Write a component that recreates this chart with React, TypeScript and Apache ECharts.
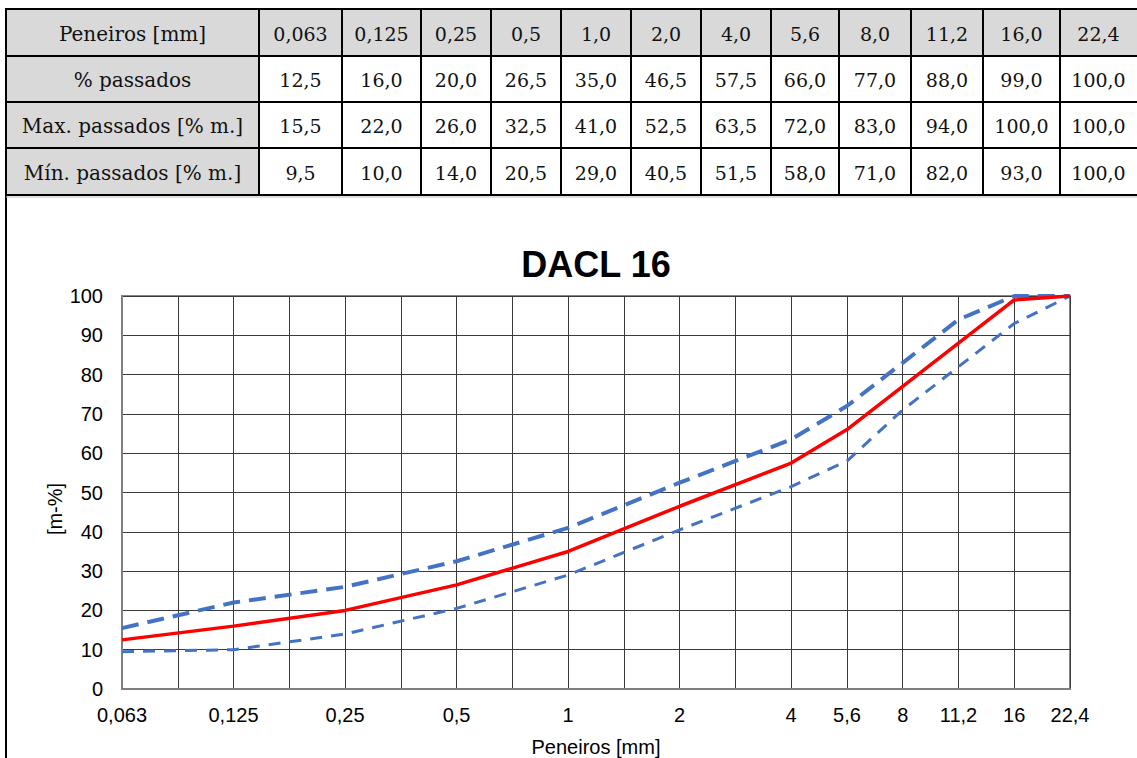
import React, { useEffect, useRef } from "react";
import * as echarts from "echarts";

// ---------- data ----------
const rowLabels = ["Peneiros [mm]", "% passados", "Max. passados [% m.]", "Mín. passados [% m.]"];
const sieveLabels = ["0,063", "0,125", "0,25", "0,5", "1,0", "2,0", "4,0", "5,6", "8,0", "11,2", "16,0", "22,4"];
const sieveSizes = [0.063, 0.125, 0.25, 0.5, 1, 2, 4, 5.6, 8, 11.2, 16, 22.4];
const passed = [12.5, 16.0, 20.0, 26.5, 35.0, 46.5, 57.5, 66.0, 77.0, 88.0, 99.0, 100.0];
const maxPassed = [15.5, 22.0, 26.0, 32.5, 41.0, 52.5, 63.5, 72.0, 83.0, 94.0, 100.0, 100.0];
const minPassed = [9.5, 10.0, 14.0, 20.5, 29.0, 40.5, 51.5, 58.0, 71.0, 82.0, 93.0, 100.0];
const axisTickLabels = ["0,063", "", "0,125", "", "0,25", "", "0,5", "", "1", "", "2", "", "4", "5,6", "8", "11,2", "16", "22,4"];
const chartTitle = "DACL 16";
const xAxisName = "Peneiros [mm]";
const yAxisName = "[m-%]";

// ---------- layout ----------
const W = 1137;
const H = 758;
const COL_EDGES = [6, 259, 342, 421, 491, 561, 631, 701, 771, 839, 911, 983, 1060, 1140];
const ROW_EDGES = [9, 56, 102, 148, 195];
const GRID = { left: 122, top: 296, width: 948, height: 393 };
const SANS = "'Liberation Sans', Arial, sans-serif";
const SERIF = "'DejaVu Serif', Georgia, serif";

// half-octave sieve scale (index of sqrt(2) steps from 0.0625 mm)
const sieveAxisPos = (s: number) => Math.round(2 * Math.log2(s / 0.0625));
const fmt = (v: number) => v.toFixed(1).replace(".", ",");

function buildTable(): any[] {
  const els: any[] = [];
  const rowsData = [sieveLabels, passed.map(fmt), maxPassed.map(fmt), minPassed.map(fmt)];
  const x0 = COL_EDGES[0];
  const x1 = COL_EDGES[COL_EDGES.length - 1];
  const y0 = ROW_EDGES[0];
  const y1 = ROW_EDGES[ROW_EDGES.length - 1];
  // backgrounds
  els.push({ type: "rect", shape: { x: x0, y: y0, width: x1 - x0, height: ROW_EDGES[1] - y0 }, style: { fill: "#d9d9d9" }, silent: true });
  els.push({ type: "rect", shape: { x: x0, y: ROW_EDGES[1], width: COL_EDGES[1] - x0, height: y1 - ROW_EDGES[1] }, style: { fill: "#d9d9d9" }, silent: true });
  // texts
  for (let r = 0; r < rowLabels.length; r++) {
    const cy = (ROW_EDGES[r] + ROW_EDGES[r + 1]) / 2 + 1;
    els.push({
      type: "text", x: (COL_EDGES[0] + COL_EDGES[1]) / 2, y: cy, silent: true,
      style: { text: rowLabels[r], fill: "#111", font: `20px ${SERIF}`, align: "center", verticalAlign: "middle" },
    });
    for (let c = 0; c < sieveLabels.length; c++) {
      els.push({
        type: "text", x: (COL_EDGES[c + 1] + Math.min(COL_EDGES[c + 2], W)) / 2, y: cy, silent: true,
        style: { text: rowsData[r][c], fill: "#111", font: `19px ${SERIF}`, align: "center", verticalAlign: "middle" },
      });
    }
  }
  // grid lines
  for (const y of ROW_EDGES) {
    els.push({ type: "line", shape: { x1: x0 - 1, y1: y, x2: x1, y2: y }, style: { stroke: "#000", lineWidth: 2 }, silent: true });
  }
  for (const x of COL_EDGES) {
    els.push({ type: "line", shape: { x1: x, y1: y0, x2: x, y2: y1 }, style: { stroke: "#000", lineWidth: 2 }, silent: true });
  }
  // chart frame (left edge below table)
  els.push({ type: "line", shape: { x1: x0, y1: y1, x2: x0, y2: H + 2 }, style: { stroke: "#000", lineWidth: 2 }, silent: true });
  els.push({ type: "line", shape: { x1: x0, y1: y1 + 2, x2: x1, y2: y1 + 2 }, style: { stroke: "#bfbfbf", lineWidth: 1 }, silent: true });
  return els;
}

export default function App() {
  const ref = useRef<HTMLDivElement>(null);
  useEffect(() => {
    document.body.style.margin = "0";
    if (!ref.current) return;
    const chart = echarts.init(ref.current, null, { renderer: "svg", width: W, height: H });
    const toPts = (vals: number[]) => sieveSizes.map((s, i) => [sieveAxisPos(s), vals[i]]);
    const plotCenterX = GRID.left + GRID.width / 2;
    chart.setOption({
      animation: false,
      backgroundColor: "#ffffff",
      grid: { ...GRID, show: true, borderColor: "#868686", borderWidth: 2, backgroundColor: "transparent" },
      xAxis: {
        type: "value",
        min: 0,
        max: axisTickLabels.length - 1,
        interval: 1,
        axisLine: { show: true, onZero: false, lineStyle: { color: "#7f7f7f", width: 2 } },
        axisTick: { show: false },
        axisLabel: {
          margin: 16,
          color: "#000",
          fontFamily: SANS,
          fontSize: 20,
          showMinLabel: true,
          showMaxLabel: true,
          formatter: (v: number) => axisTickLabels[Math.round(v)] ?? "",
        },
        splitLine: { show: true, lineStyle: { color: "#3a3a3a", width: 1 } },
      },
      yAxis: {
        type: "value",
        min: 0,
        max: 100,
        interval: 10,
        axisLine: { show: true, lineStyle: { color: "#7f7f7f", width: 2 } },
        axisTick: { show: false },
        axisLabel: { margin: 19, color: "#000", fontFamily: SANS, fontSize: 20 },
        splitLine: { show: true, lineStyle: { color: "#3a3a3a", width: 1 } },
      },
      series: [
        {
          name: "Max. passados [% m.]",
          type: "line",
          data: toPts(maxPassed),
          symbol: "none",
          lineStyle: { color: "#4472c4", width: 4, type: [17, 9], cap: "butt" },
          z: 3,
        },
        {
          name: "Mín. passados [% m.]",
          type: "line",
          data: toPts(minPassed),
          symbol: "none",
          lineStyle: { color: "#4472c4", width: 3, type: [12, 9], cap: "butt" },
          z: 3,
        },
        {
          name: "% passados",
          type: "line",
          data: toPts(passed),
          symbol: "none",
          lineStyle: { color: "#ff0000", width: 3.5 },
          z: 4,
        },
      ],
      graphic: [
        ...buildTable(),
        {
          type: "text", x: plotCenterX, y: 264, silent: true,
          style: { text: chartTitle, fill: "#000", font: `bold 36px ${SANS}`, align: "center", verticalAlign: "middle" },
        },
        {
          type: "text", x: plotCenterX, y: 747, silent: true,
          style: { text: xAxisName, fill: "#000", font: `20px ${SANS}`, align: "center", verticalAlign: "middle" },
        },
        {
          type: "text", x: 55, y: 509, rotation: Math.PI / 2, silent: true,
          style: { text: yAxisName, fill: "#000", font: `20px ${SANS}`, align: "center", verticalAlign: "middle" },
        },
      ],
    });
    return () => chart.dispose();
  }, []);
  return <div ref={ref} style={{ width: W, height: H }} />;
}
